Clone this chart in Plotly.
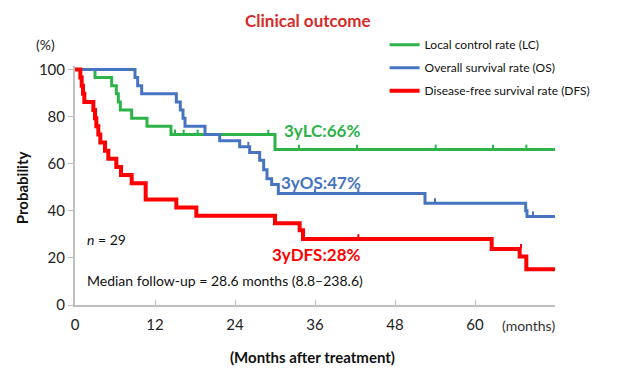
import plotly.graph_objects as go

# ---- data (months, %) ----
lc_t = [0, 3.0, 5.5, 6.2, 6.5, 6.8, 8.5, 10.8, 14.4, 30.0, 72]
lc_v = [100, 96.6, 93.1, 89.7, 86.2, 82.8, 79.3, 75.9, 72.4, 66.0, 66.0]
lc_cens_t = [15.0, 16.3, 18.4, 29.0, 33.6, 42.3, 54.1, 62.7, 67.7]
lc_cens_v = [72.4, 72.4, 72.4, 72.4, 66.0, 66.0, 66.0, 66.0, 66.0]

os_t = [0, 9.0, 9.4, 10.0, 15.2, 15.8, 16.2, 16.5, 19.5, 21.7, 24.7, 26.2, 27.7, 28.3, 28.8, 29.5, 30.5, 52.5, 67.6, 67.8, 72]
os_v = [100, 96.6, 93.1, 89.7, 86.2, 82.8, 79.3, 75.9, 72.4, 69.8, 67.2, 64.8, 61.5, 57.4, 53.6, 51.2, 47.4, 43.2, 40.0, 37.6, 37.6]
os_cens_t = [26.0, 36.0, 42.5, 54.0, 68.7]
os_cens_v = [67.2, 47.4, 47.4, 43.2, 37.6]

dfs_t = [0, 0.8, 1.0, 1.2, 1.4, 2.75, 3.0, 3.2, 3.5, 3.8, 4.5, 5.0, 6.2, 6.9, 8.5, 10.6, 15.2, 18.2, 30.0, 33.7, 34.2, 62.5, 66.7, 67.7, 72]
dfs_v = [100, 96.6, 93.1, 89.7, 86.2, 82.8, 79.3, 75.9, 72.4, 69.0, 65.5, 62.1, 58.6, 55.2, 51.7, 44.8, 41.4, 37.9, 34.7, 31.7, 28.0, 23.8, 20.6, 15.2, 15.2]
dfs_cens_t = [42.5, 66.9]
dfs_cens_v = [28.0, 23.8]

names = ["Local control rate (LC)", "Overall survival rate (OS)", "Disease-free survival rate (DFS)"]
colors = ["#2db34a", "#4674c1", "#ff0000"]
widths = [3, 3, 4]
labels = ["3yLC:66%", "3yOS:47%", "3yDFS:28%"]
x_ticks = [0, 12, 24, 36, 48, 60]
y_ticks = [0, 20, 40, 60, 80, 100]

FONT = "Lato, 'Open Sans', sans-serif"

fig = go.Figure()
series = [(lc_t, lc_v, lc_cens_t, lc_cens_v), (os_t, os_v, os_cens_t, os_cens_v),
          (dfs_t, dfs_v, dfs_cens_t, dfs_cens_v)]
for i, (t, v, ct, cv) in enumerate(series):
    fig.add_trace(go.Scatter(x=t, y=v, mode="lines", line=dict(color=colors[i], width=widths[i], shape="hv"),
                             name=names[i], legendgroup=str(i)))
for i, (t, v, ct, cv) in enumerate(series):
    fig.add_trace(go.Scatter(x=ct, y=[c + 1.2 for c in cv], mode="markers", showlegend=False,
                             marker=dict(symbol="line-ns", size=3, line=dict(color=colors[i], width=2)),
                             cliponaxis=False))

ann = []
# outside-plot texts in paper coordinates
ann.append(dict(xref="paper", yref="paper", x=0.485, y=1.192, text="<b>Clinical outcome</b>",
                font=dict(size=17, color="#d62a2a", family=FONT)))
ann.append(dict(xref="paper", yref="paper", x=-0.0625, y=1.088, text="(%)",
                font=dict(size=14, color="#222", family=FONT)))
ann.append(dict(xref="paper", yref="paper", x=0.944, y=-0.0837, text="(months)",
                font=dict(size=14, color="#333", family=FONT)))
ann.append(dict(xref="paper", yref="paper", x=0.494, y=-0.2176, text="<b>(Months after treatment)</b>",
                font=dict(size=15, color="#111", family=FONT)))
ann.append(dict(xref="paper", yref="paper", x=-0.110, y=0.4895, text="<b>Probability</b>", textangle=-90,
                font=dict(size=15, color="#111", family=FONT)))
# inside-plot texts in data coordinates
ann.append(dict(xref="x", yref="y", x=1.5, y=27.7, text="<i>n</i> = 29", xanchor="left",
                font=dict(size=14, color="#111", family=FONT)))
ann.append(dict(xref="x", yref="y", x=1.5, y=10.6, text="Median follow-up = 28.6 months (8.8–238.6)",
                xanchor="left", font=dict(size=14, color="#111", family=FONT)))
lab_pos = [(37.05, 74.0), (36.9, 51.9), (36.15, 21.3)]
for i in range(3):
    ann.append(dict(xref="x", yref="y", x=lab_pos[i][0], y=lab_pos[i][1], text="<b>" + labels[i] + "</b>",
                    font=dict(size=17, color=colors[i], family=FONT)))
for a in ann:
    a.update(showarrow=False, yanchor="middle")
    a.setdefault("xanchor", "center")

fig.update_layout(
    width=630, height=368,
    margin=dict(l=67, r=83, t=58, b=71),
    paper_bgcolor="white", plot_bgcolor="white",
    annotations=ann,
    legend=dict(x=0.645, y=1.15, xanchor="left", yanchor="top", font=dict(size=12, color="#111", family=FONT),
                tracegroupgap=4, bgcolor="rgba(0,0,0,0)", itemwidth=30),
    xaxis=dict(range=[0, 72], tickvals=x_ticks, ticktext=[str(v) for v in x_ticks], showgrid=False, zeroline=False,
               showline=True, linecolor="#bfbfbf", linewidth=2, ticks="inside", ticklen=5, tickcolor="#bfbfbf",
               ticklabelstandoff=5, tickfont=dict(size=15, color="#222", family=FONT)),
    yaxis=dict(range=[0, 101.5], tickvals=y_ticks, showgrid=False, zeroline=False, showline=True,
               linecolor="#bfbfbf", linewidth=2, ticks="outside", ticklen=5, tickcolor="#bfbfbf",
               tickfont=dict(size=15, color="#222", family=FONT)),
    showlegend=True,
)
fig.write_html("out.html")
